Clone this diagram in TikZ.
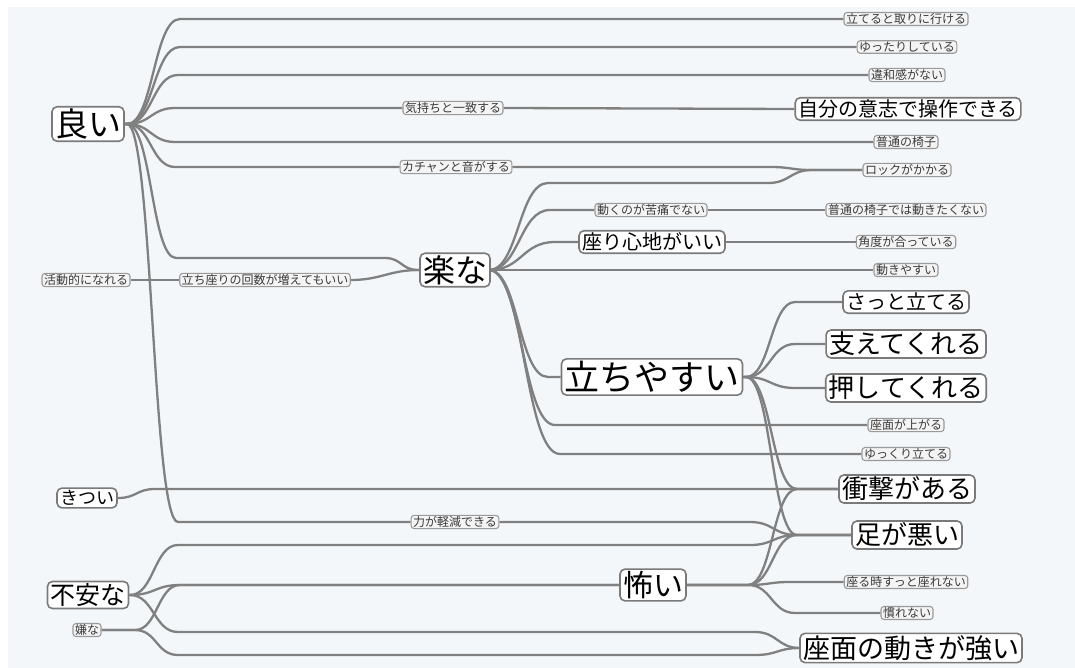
\documentclass[tikz,border=0pt]{standalone}
\usepackage{fontspec}
\setmainfont{Noto Sans CJK JP}
\definecolor{bgc}{HTML}{F3F7FA}
\definecolor{edgec}{HTML}{808080}
\definecolor{bordc}{HTML}{7A7A7A}
\definecolor{smbord}{HTML}{9A9A9A}
\definecolor{smfill}{HTML}{F4F4F4}
\definecolor{smtxt}{HTML}{3A3A3A}
\newcommand\fs[1]{\fontsize{#1}{#1}\selectfont}
\pgfdeclarelayer{back}
\pgfdeclarelayer{bg}
\pgfsetlayers{back,bg,main}
\tikzset{
  edge/.style={draw=edgec, line width=2.3pt},
  big/.style={draw=bordc, fill=white, rounded corners=5pt, line width=1.6pt,
    inner xsep=3pt, inner ysep=2pt, text=black, execute at begin node=\vphantom{国}},
  sm/.style={draw=smbord, fill=smfill, rounded corners=3pt, line width=1.1pt,
    inner xsep=2pt, inner ysep=1pt, text=smtxt, font=\fs{12}, execute at begin node=\vphantom{国}},
}
% from, to, xA, xB : straight to xA, S-curve to xB at target level, straight to target
\newcommand\lnk[5][]{%
  \coordinate (xA) at (#4,0); \coordinate (xB) at (#5,0);
  \draw[edge,#1] (#2) -- (xA |- #2) .. controls +({(#5-#4)/2},0) and +({-(#5-#4)/2},0) .. (xB |- #3) -- (#3);}
% from, to, xA, xB, ymid, xC, xD : two S-curves via a middle level
\newcommand\lnkk[8][]{%
  \coordinate (xA) at (#4,0); \coordinate (xD) at (#8,0);
  \draw[edge,#1] (#2) -- (xA |- #2) .. controls +({(#5-#4)/2},0) and +({-(#5-#4)/2},0) .. (#5,#6) -- (#7,#6) .. controls +({(#8-#7)/2},0) and +({-(#8-#7)/2},0) .. (xD |- #3) -- (#3);}
\begin{document}
\begin{tikzpicture}[x=1pt,y=-1pt]
\useasboundingbox (0,0) rectangle (1075,668);
\begin{pgfonlayer}{back}
  \fill[white] (0,0) rectangle (1075,668);
  \fill[bgc] (8,7) rectangle (1075,668);
\end{pgfonlayer}

% main nodes
\node[big,font=\fs{33}] (yoi) at (88,124) {良い};
\node[big,font=\fs{32}] (raku) at (455,270) {楽な};
\node[big,font=\fs{35}] (tachi) at (652,377) {立ちやすい};
\node[big,font=\fs{30}] (kowai) at (653,585) {怖い};
\node[big,font=\fs{25}] (fuan) at (88,595) {不安な};
\node[big,font=\fs{18}] (kitsui) at (87,498) {きつい};
\node[sm] (iyana) at (87,630) {嫌な};
\node[sm] (katsu) at (86,280) {活動的になれる};

\node[big,font=\fs{20}] (jibun) at (908,109) {自分の意志で操作できる};
\node[big,font=\fs{20}] (suwari) at (652,242) {座り心地がいい};
\node[big,font=\fs{20}] (satto) at (906,302) {さっと立てる};
\node[big,font=\fs{26}] (sasae) at (906,344) {支えてくれる};
\node[big,font=\fs{26}] (oshi) at (906,388) {押してくれる};
\node[big,font=\fs{26}] (shogeki) at (907,489) {衝撃がある};
\node[big,font=\fs{26}] (ashi) at (907,535) {足が悪い};
\node[big,font=\fs{27}] (zamen) at (911,648) {座面の動きが強い};

% small leaf nodes
\node[sm] (s1) at (906,19) {立てると取りに行ける};
\node[sm] (s2) at (907,47) {ゆったりしている};
\node[sm] (s3) at (907,75) {違和感がない};
\node[sm] (s4) at (906,142) {普通の椅子};
\node[sm] (s5) at (907,170) {ロックがかかる};
\node[sm] (s6) at (906,210) {普通の椅子では動きたくない};
\node[sm] (s7) at (906,242) {角度が合っている};
\node[sm] (s8) at (906,270) {動きやすい};
\node[sm] (s9) at (906,425) {座面が上がる};
\node[sm] (s10) at (906,454) {ゆっくり立てる};
\node[sm] (s11) at (906,582) {座る時すっと座れない};
\node[sm] (s12) at (907,613) {慣れない};

% edge labels
\node[sm] (l1) at (453,108) {気持ちと一致する};
\node[sm] (l2) at (456,167) {カチャンと音がする};
\node[sm] (l3) at (651,210) {動くのが苦痛でない};
\node[sm] (l4) at (265,280) {立ち座りの回数が増えてもいい};
\node[sm] (l5) at (455,522) {力が軽減できる};

\begin{pgfonlayer}{bg}
% from 良い
\lnk{yoi.east}{s1.west}{127}{180}
\lnk{yoi.east}{s2.west}{127}{180}
\lnk{yoi.east}{s3.west}{127}{178}
\lnk{yoi.east}{l1.west}{127}{175}
\draw[edge] (l1.east) -- (jibun.west);
\lnk{yoi.east}{s4.west}{127}{175}
\lnk{yoi.east}{l2.west}{127}{175}
\lnk{l2.east}{s5.west}{770}{812}
\lnkk{yoi.east}{raku.west}{127}{176}{258}{385}{418}
\lnk{yoi.east}{l5.west}{127}{178}
\lnk{l5.east}{ashi.west}{750}{797}
% from 楽な
\lnkk{raku.east}{s5.west}{489}{548}{183}{768}{812}
\lnk{raku.east}{l3.west}{489}{550}
\draw[edge] (l3.east) -- (s6.west);
\lnk{raku.east}{suwari.west}{489}{555}
\draw[edge] (suwari.east) -- (s7.west);
\lnk{raku.east}{s8.west}{489}{520}
\lnk{raku.east}{tachi.west}{489}{548}
\lnk{raku.east}{s9.west}{489}{555}
\lnk{raku.east}{s10.west}{489}{560}
\draw[edge] (raku.west) .. controls +(-30,0) and +(30,0) .. (l4.east);
\draw[edge] (l4.west) -- (katsu.east);
% from 立ちやすい
\lnk{tachi.east}{satto.west}{746}{795}
\lnk{tachi.east}{sasae.west}{746}{795}
\lnk{tachi.east}{oshi.west}{746}{795}
\lnk{tachi.east}{shogeki.west}{746}{797}
\lnk{tachi.east}{ashi.west}{746}{797}
% from 怖い
\lnk{kowai.east}{shogeki.west}{748}{797}
\lnk{kowai.east}{ashi.west}{748}{797}
\lnk{kowai.east}{s11.west}{748}{790}
\lnk{kowai.east}{s12.west}{748}{795}
% from きつい
\lnk{kitsui.east}{shogeki.west}{118}{155}
% from 不安な
\lnkk{fuan.east}{ashi.west}{130}{178}{545}{750}{797}
\lnk{fuan.east}{kowai.west}{130}{180}
\lnkk{fuan.east}{zamen.west}{130}{178}{632}{755}{800}
% from 嫌な
\lnk{iyana.east}{kowai.west}{135}{180}
\lnkk{iyana.east}{zamen.west}{135}{178}{655}{755}{800}
\end{pgfonlayer}
\end{tikzpicture}
\end{document}
